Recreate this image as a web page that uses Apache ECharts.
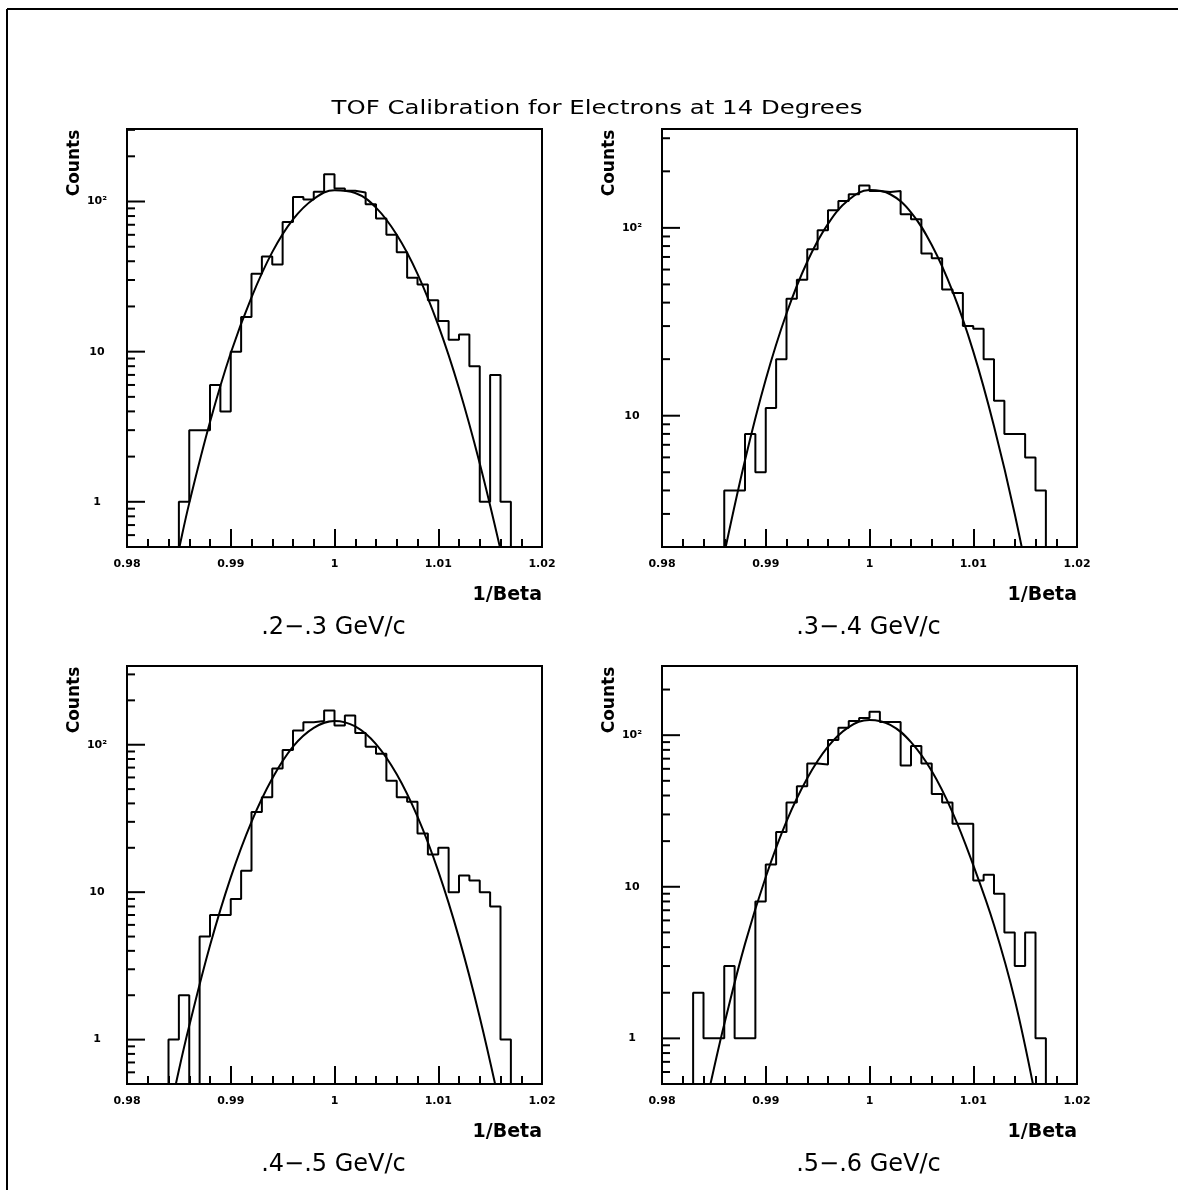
<!DOCTYPE html>
<html>
<head>
<meta charset="utf-8">
<title>TOF Calibration for Electrons at 14 Degrees</title>
<script src="https://cdn.jsdelivr.net/npm/echarts@6/dist/echarts.min.js"></script>
<style>
  html, body { margin: 0; padding: 0; background: #fff; }
  #chart { width: 1185px; height: 1198px; }
</style>
</head>
<body>
<div id="chart"></div>
<script>
// histogram bins, width 0.001 in 1/Beta
const binLeft = [
  0.980, 0.981, 0.982, 0.983, 0.984, 0.985, 0.986, 0.987, 0.988, 0.989,
  0.990, 0.991, 0.992, 0.993, 0.994, 0.995, 0.996, 0.997, 0.998, 0.999,
  1.000, 1.001, 1.002, 1.003, 1.004, 1.005, 1.006, 1.007, 1.008, 1.009,
  1.010, 1.011, 1.012, 1.013, 1.014, 1.015, 1.016, 1.017, 1.018, 1.019
];
const binEnd = 1.020;

const counts23 = [
  0, 0, 0, 0, 0, 1, 3, 3, 6, 4,
  10, 17, 33, 43, 38, 73, 107, 103, 116, 152,
  122, 118, 115, 96, 77, 60, 46, 31, 28, 22,
  16, 12, 13, 8, 1, 7, 1, 0, 0, 0
];
const counts34 = [
  0, 0, 0, 0, 0, 0, 4, 4, 8, 5,
  11, 20, 42, 53, 77, 97, 124, 139, 151, 168,
  157, 155, 157, 118, 111, 73, 69, 47, 45, 30,
  29, 20, 12, 8, 8, 6, 4, 0, 0, 0
];
const counts45 = [
  0, 0, 0, 0, 1, 2, 0, 5, 7, 7,
  9, 14, 35, 44, 69, 92, 125, 142, 145, 171,
  135, 158, 120, 97, 87, 57, 44, 41, 25, 18,
  20, 10, 13, 12, 10, 8, 1, 0, 0, 0
];
const counts56 = [
  0, 0, 0, 2, 1, 1, 3, 1, 1, 8,
  14, 23, 36, 46, 65, 64, 93, 112, 124, 130,
  143, 122, 122, 63, 85, 65, 41, 36, 26, 26,
  11, 12, 9, 5, 3, 5, 1, 0, 0, 0
];

// fitted curves
const fitX = [0.984, 0.985, 0.986, 0.988, 0.990, 0.992, 0.994, 0.996, 0.998, 1.000,
              1.002, 1.004, 1.006, 1.008, 1.010, 1.012, 1.014, 1.016];
const fit23 = [0.23, 0.48, 0.98, 3.4, 9.8, 23, 46, 76, 104, 119, 114, 91, 60, 33, 15, 5.7, 1.8, 0.48];
const fit34 = [0.49, 0.97, 1.84, 5.8, 15.6, 35, 66, 105, 141, 159, 151, 121, 81, 46, 22, 8.8, 3.0, 0.85];
const fit45 = [0.29, 0.62, 1.24, 4.35, 12.6, 30, 59, 97, 130, 145, 133, 101, 63, 32.5, 13.9, 4.9, 1.42, 0.34];
const fit56 = [0.31, 0.63, 1.24, 4.2, 11.6, 27, 52, 84, 113, 126, 117, 90, 58, 31, 13.9, 5.6, 1.8, 0.41];

const panelNames = ['.2\u2212.3 GeV/c', '.3\u2212.4 GeV/c', '.4\u2212.5 GeV/c', '.5\u2212.6 GeV/c'];
const yMin = [0.5, 2, 0.5, 0.5];
const yMax = [304, 336, 342, 286];
const yMajorTicks = [1, 10, 100];
const yMinorTicks = [0.6, 0.7, 0.8, 0.9, 2, 3, 4, 5, 6, 7, 8, 9,
                     20, 30, 40, 50, 60, 70, 80, 90, 200, 300];

const mainTitle = 'TOF Calibration for Electrons at 14 Degrees';
const xName = '1/Beta';
const yName = 'Counts';

// layout
const gridLeft = [127, 662, 127, 662];
const gridTop = [129, 129, 666, 666];
const gridW = 415;
const gridH = 418;
const FONT = '"DejaVu Sans"';

const allCounts = [counts23, counts34, counts45, counts56];
const allFits = [fit23, fit34, fit45, fit56];

function histData(counts, floor) {
  const pts = binLeft.map((x, i) => [x, counts[i] > 0 ? counts[i] : floor]);
  const last = counts[counts.length - 1];
  pts.push([binEnd, last > 0 ? last : floor]);
  return pts;
}

function renderTick(params, api) {
  const p = api.coord([api.value(0), api.value(1)]);
  return {
    type: 'line',
    shape: { x1: p[0], y1: p[1], x2: p[0] + api.value(2), y2: p[1] },
    style: { stroke: '#000', lineWidth: 2 }
  };
}

const grid = [], xAxis = [], yAxis = [], series = [];
const graphic = [
  { type: 'line', shape: { x1: 7, y1: 9, x2: 1178, y2: 9 }, style: { stroke: '#000', lineWidth: 2 } },
  { type: 'line', shape: { x1: 7, y1: 9, x2: 7, y2: 1190 }, style: { stroke: '#000', lineWidth: 2 } },
  {
    type: 'text', x: 597, y: 109, scaleX: 1.22,
    style: { text: mainTitle, font: '20px ' + FONT, fill: '#000', textAlign: 'center', textVerticalAlign: 'middle' }
  }
];

for (let i = 0; i < 4; i++) {
  const L = gridLeft[i], T = gridTop[i];
  grid.push({
    left: L, top: T, width: gridW, height: gridH,
    show: true, borderColor: '#000', borderWidth: 2, backgroundColor: 'transparent'
  });
  xAxis.push({
    type: 'value', gridIndex: i, min: 0.98, max: 1.02, interval: 0.01,
    axisLine: { onZero: false, lineStyle: { color: '#000', width: 2 } },
    axisTick: { inside: true, length: 18, lineStyle: { color: '#000', width: 2 } },
    minorTick: { show: true, splitNumber: 5, length: 8, lineStyle: { color: '#000', width: 2 } },
    splitLine: { show: false },
    axisLabel: {
      color: '#000', fontFamily: FONT, fontWeight: 'bold', fontSize: 11, margin: 12,
      showMinLabel: true, showMaxLabel: true, hideOverlap: false
    }
  });
  yAxis.push({
    type: 'log', logBase: 10, gridIndex: i, min: yMin[i], max: yMax[i],
    axisLine: { lineStyle: { color: '#000', width: 2 } },
    axisTick: { show: false },
    splitLine: { show: false },
    axisLabel: {
      color: '#000', fontFamily: FONT, fontWeight: 'bold', fontSize: 11,
      margin: 30, align: 'center', interval: 0, hideOverlap: false,
      formatter: function (v) {
        if (Math.abs(v - 1) < 1e-6) return '1';
        if (Math.abs(v - 10) < 1e-5) return '10';
        if (Math.abs(v - 100) < 1e-4) return '10\u00B2';
        return '';
      }
    }
  });

  series.push({
    type: 'line', xAxisIndex: i, yAxisIndex: i, step: 'end', clip: true,
    showSymbol: false, silent: true, animation: false,
    lineStyle: { color: '#000', width: 2 },
    data: histData(allCounts[i], yMin[i] / 10)
  });
  series.push({
    type: 'line', xAxisIndex: i, yAxisIndex: i, smooth: 0.4, clip: true,
    showSymbol: false, silent: true, animation: false,
    lineStyle: { color: '#000', width: 2 },
    data: fitX.map((x, k) => [x, allFits[i][k]])
  });
  const ticks = yMajorTicks.map(v => [0.98, v, 18])
    .concat(yMinorTicks.map(v => [0.98, v, 8]))
    .filter(t => t[1] > yMin[i] && t[1] < yMax[i]);
  series.push({
    type: 'custom', xAxisIndex: i, yAxisIndex: i, silent: true, animation: false,
    renderItem: renderTick, data: ticks
  });

  graphic.push({
    type: 'text', x: L - 52, y: T + 34, rotation: Math.PI / 2,
    style: { text: yName, font: 'bold 17px ' + FONT, fill: '#000', textAlign: 'center', textVerticalAlign: 'middle' }
  });
  graphic.push({
    type: 'text', x: L + gridW, y: T + 466,
    style: { text: xName, font: 'bold 19px ' + FONT, fill: '#000', textAlign: 'right', textVerticalAlign: 'middle' }
  });
  graphic.push({
    type: 'text', x: L + gridW / 2 - 1, y: T + 499,
    style: { text: panelNames[i], font: '24px ' + FONT, fill: '#000', textAlign: 'center', textVerticalAlign: 'middle' }
  });
}

const chart = echarts.init(document.getElementById('chart'), null, { renderer: 'canvas' });
chart.setOption({
  backgroundColor: '#fff',
  animation: false,
  grid, xAxis, yAxis, series, graphic
});
</script>
</body>
</html>
